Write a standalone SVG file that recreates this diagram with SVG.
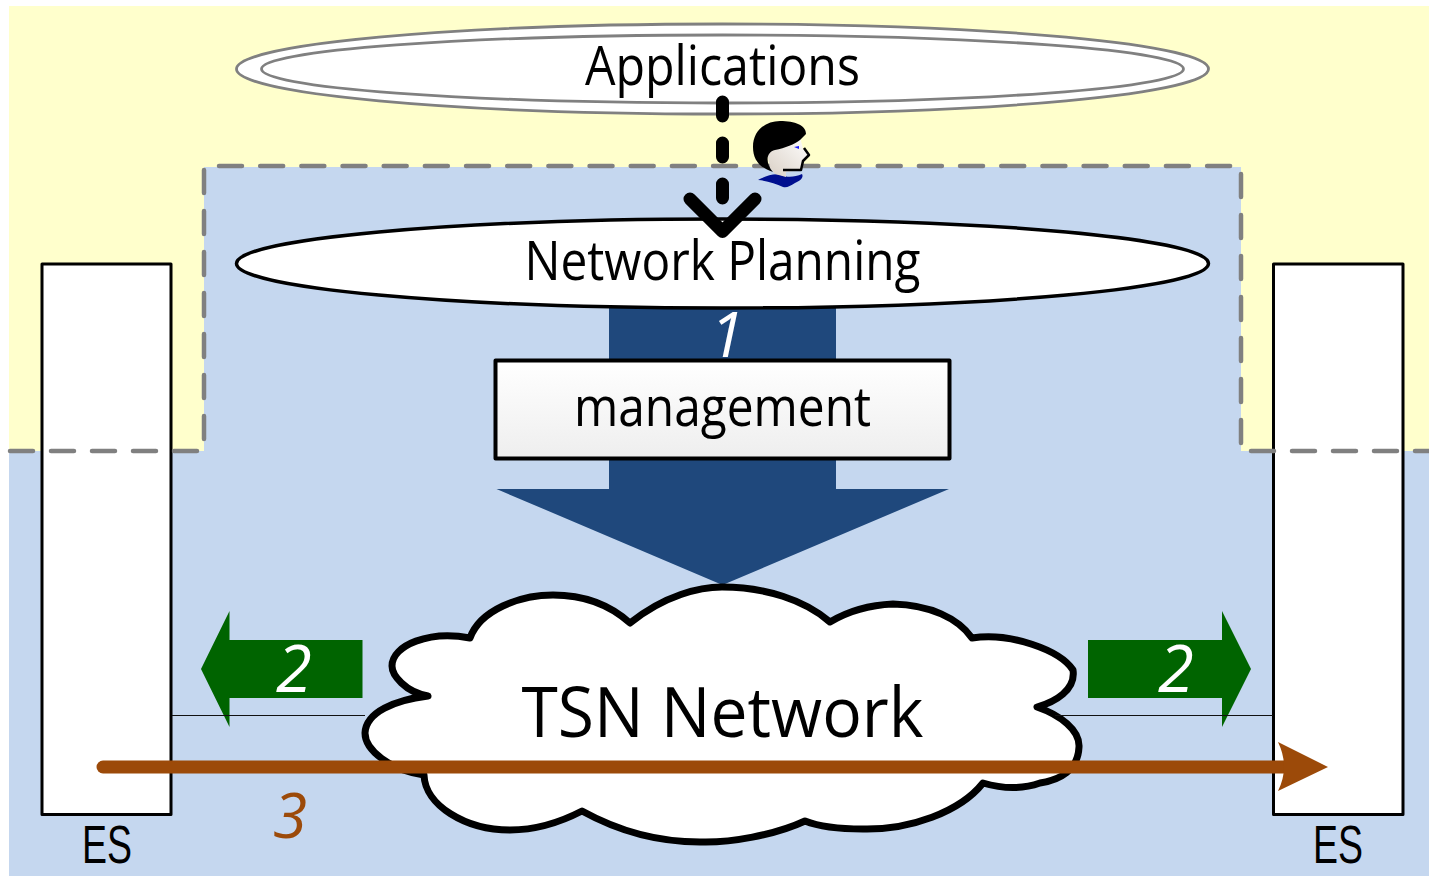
<svg xmlns="http://www.w3.org/2000/svg" width="1429" height="876" viewBox="0 0 1429 876">
<style>
text{font-family:"Open Sans","Noto Sans","Liberation Sans",sans-serif;fill:#000;text-anchor:middle}
text.es-t{font-family:"Liberation Sans",sans-serif}
.n{fill:#fff}.i{font-style:italic}
.dash{fill:none;stroke:#808080;stroke-width:4.500;stroke-linecap:round;stroke-dasharray:23 18}
.es{fill:#fff;stroke:#000;stroke-width:3;stroke-linejoin:round}
.thin{stroke:#111;stroke-width:1;fill:none}
.app{fill:#fff;stroke:#808080;stroke-width:2.800}
.green{fill:#006400}
.black{fill:none;stroke:#000;stroke-width:13;stroke-linecap:round;stroke-linejoin:round}
</style>
<defs>
<linearGradient id="mg" x1="0" y1="0" x2="0" y2="1"><stop offset="0" stop-color="#fff"/><stop offset="1" stop-color="#eee"/></linearGradient>
<linearGradient id="face" x1="0" y1="1" x2="1" y2="0"><stop offset="0" stop-color="#d9cfc4"/><stop offset="1" stop-color="#fff"/></linearGradient>
</defs>
<g id="background">
<rect x="9" y="6" width="1420" height="445" fill="#ffffcc"/>
<path d="M9 451H204V167H1241V451H1429V876H9Z" fill="#c5d7ef"/>
</g>
<g id="es-left"><rect class="es" x="42" y="264" width="129" height="550.500"/><text class="es-t" x="107" y="863" font-size="53" textLength="50" lengthAdjust="spacingAndGlyphs">ES</text></g>
<g id="es-right"><rect class="es" x="1273.500" y="264" width="129.500" height="550.500"/><text class="es-t" x="1338" y="863" font-size="53" textLength="50" lengthAdjust="spacingAndGlyphs">ES</text></g>
<g id="boundary">
<path class="dash" d="M10 451H198"/>
<path class="dash" d="M204 170V446"/>
<path class="dash" style="stroke-dasharray:23 18.17" d="M219 166H1234"/>
<path class="dash" d="M1241 174V447"/>
<path class="dash" d="M1251 451H1429"/>
</g>
<g id="applications">
<ellipse class="app" cx="722.500" cy="69" rx="486" ry="45"/>
<ellipse class="app" cx="722.500" cy="69" rx="461" ry="34"/>
<text x="722.500" y="85" font-size="55" textLength="275" lengthAdjust="spacingAndGlyphs">Applications</text>
</g>
<g id="person">
<path d="M758 180C765 176 775 173 781 175C788 178 795 177 802 174C804 178 800 181 795 183C790 186 787 188 783 187C776 184 768 181 758 180Z" fill="#000f8f"/>
<path d="M767 152C778 146 790 146 800 137L803 149L809 155L803 161L802 170L786 172L786 177L775 174L770 168Z" fill="url(#face)"/>
<path d="M773 172C760 168 753 160 753 147C753 130 766 121 780 121C795 121 806 125 806 134L800 140C795 144 785 148 775 150C766 152 765 163 773 172Z" fill="#000"/>
<path d="M783 170L801 170L803 161L809 155L804 148" fill="none" stroke="#000" stroke-width="2.500" stroke-linejoin="round"/>
<path d="M794 147L799 146L799 149Z" fill="#1a1aff"/>
</g>
<g id="management-arrow">
<path d="M609 305H836V489H949L722.500 585L496.500 489H609Z" fill="#1f487c"/>
</g>
<g id="network-planning">
<ellipse cx="722.500" cy="263.500" rx="486" ry="44.500" fill="#fff" stroke="#000" stroke-width="3.500"/>
<text x="722.500" y="280" font-size="54" textLength="396" lengthAdjust="spacingAndGlyphs">Network Planning</text>
</g>
<g id="label-1"><text class="n i" x="727" y="357" font-size="62">1</text></g>
<g id="management">
<rect x="495.500" y="360.500" width="454" height="98" fill="url(#mg)" stroke="#000" stroke-width="4" stroke-linejoin="round"/>
<text x="722.500" y="426" font-size="54" textLength="297" lengthAdjust="spacingAndGlyphs">management</text>
</g>
<g id="tsn-network">
<path d="M630 623C665 595 700 587 722 587C765 587 805 600 830 622C850 610 870 605 893 604C930 605 958 618 972 638C1010 632 1060 650 1073 670C1076 690 1055 702 1037 707C1060 715 1080 730 1079 747C1078 770 1060 780 1040 783C1020 790 1000 788 983 783C960 812 910 830 863 829C840 829 820 827 805 821C775 835 730 843 700 842C660 842 620 832 582 811C555 825 530 830 510 830C465 830 425 805 424 775C390 770 365 750 365 733C366 712 395 700 428 696C405 692 392 675 392 666C392 645 430 630 470 638C480 610 520 595 553 595C585 595 610 605 630 623Z" fill="#fff" stroke="#000" stroke-width="7" stroke-linejoin="round"/>
<text x="722.500" y="737" font-size="70" textLength="402" lengthAdjust="spacingAndGlyphs">TSN Network</text>
</g>
<g id="connectors">
<path class="green" d="M362.500 640V698H229.500V727L201 669L229.500 611V640Z"/>
<path class="green" d="M1088 640V698H1222V727L1251 669L1222 611V640Z"/>
<path class="thin" d="M172 715.500H365"/>
<path class="thin" d="M1055 715.500H1273"/>
<path class="black" d="M722.500 102V116M722.500 143V157M722.500 184V198"/>
<path class="black" d="M690 199L722.500 231.500L755 199"/>
<path d="M103 767H1285" fill="none" stroke="#9c4a09" stroke-width="13" stroke-linecap="round"/>
<path d="M1278 742L1328 767L1278 791Q1290 767 1278 742Z" fill="#9c4a09"/>
</g>
<g id="labels">
<text class="n i" x="294" y="692" font-size="65">2</text>
<text class="n i" x="1176" y="692" font-size="65">2</text>
<text class="i" x="290" y="838" font-size="62" style="fill:#9c4a09">3</text>
</g>
</svg>
